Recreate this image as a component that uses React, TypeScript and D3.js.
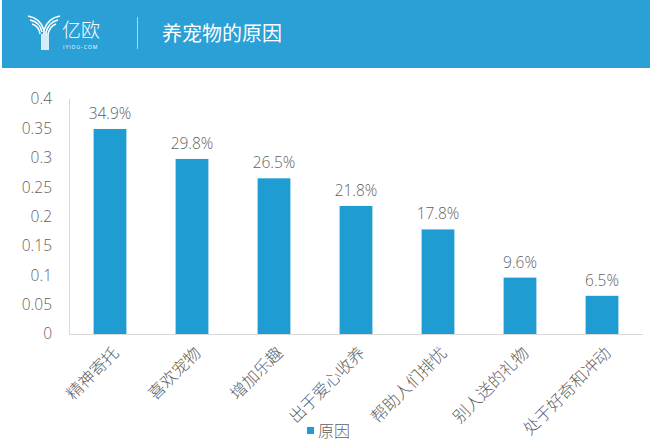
import React from "react";
import * as d3 from "d3";

const categories = ["精神寄托", "喜欢宠物", "增加乐趣", "出于爱心收养", "帮助人们排忧", "别人送的礼物", "处于好奇和冲动"];
const values = [0.349, 0.298, 0.265, 0.218, 0.178, 0.096, 0.065];
const valueLabels = ["34.9%", "29.8%", "26.5%", "21.8%", "17.8%", "9.6%", "6.5%"];
const yTicks = [0, 0.05, 0.1, 0.15, 0.2, 0.25, 0.3, 0.35, 0.4];
const seriesName = "原因";
const title = "养宠物的原因";

const W = 650, H = 442;
const BLUE = "#1f9dd3";
const HEADER = "#2aa0d6";
const TEXT = "#5f5f5f";
const NUM_FONT = "'Open Sans', 'DejaVu Sans', sans-serif";
const CJK_FONT = "'Noto Sans CJK SC', 'Noto Sans', sans-serif";

export default function App() {
  const x = d3.scaleBand<string>().domain(categories).range([69, 643]).paddingInner(0.6).paddingOuter(0.3);
  const y = d3.scaleLinear().domain([0, 0.4]).range([334, 99]);
  const fmt = d3.format("");
  return (
    <svg width={W} height={H} style={{ position: "absolute", left: 0, top: 0, background: "#fff" }}>
      <rect x={2} y={0} width={W - 2} height={68} fill={HEADER} />
      {/* logo */}
      <g stroke="#fff" strokeWidth={1.6} fill="none">
        <path d="M28,16 Q40,18 44,30 L44,50" />
        <path d="M30,20 Q40,22 42,32" />
        <path d="M32,24 Q39,26 40,34" />
        <path d="M60,16 Q48,18 44,30" />
        <path d="M58,20 Q49,22 46,32 L46,50" />
        <path d="M56,24 Q50,26 48,34 L48,50" />
        <path d="M42,34 L42,50" />
      </g>
      <text x={62} y={37} fill="#fff" fontSize={19} fontFamily={CJK_FONT} fontWeight={300}>亿欧</text>
      <text x={63} y={48.5} fill="#fff" fontSize={5} fontFamily={NUM_FONT} letterSpacing={1}>IYIOU-COM</text>
      <line x1={137.5} x2={137.5} y1={17} y2={49} stroke="#fff" strokeOpacity={0.6} strokeWidth={1} />
      <text x={162} y={41} fill="#fff" fontSize={20} fontFamily={CJK_FONT} fontWeight={400}>{title}</text>

      {/* y axis */}
      <line x1={69.5} x2={69.5} y1={y(0.4)} y2={y(0)} stroke="#d9d9d9" />
      {yTicks.map((t) => (
        <text key={t} x={52} y={y(t)} dy="0.35em" textAnchor="end" fontSize={15.5} fill={TEXT} fontFamily={NUM_FONT} fontWeight={300}>
          {fmt(t)}
        </text>
      ))}
      {/* bars */}
      {categories.map((c, i) => (
        <g key={c}>
          <rect x={x(c)} y={y(values[i])} width={x.bandwidth()} height={y(0) - y(values[i])} fill={BLUE} />
          <text x={x(c)! + x.bandwidth() / 2} y={y(values[i]) - 10} textAnchor="middle" fontSize={15.5} fill={TEXT} fontFamily={NUM_FONT} fontWeight={300}>
            {valueLabels[i]}
          </text>
          <text
            transform={`translate(${x(c)! + x.bandwidth() / 2 + 10},${354}) rotate(-45)`}
            textAnchor="end"
            fontSize={16.5}
            fill={TEXT}
            fontFamily={CJK_FONT}
            fontWeight={300}
          >
            {c}
          </text>
        </g>
      ))}
      <line x1={69} x2={643} y1={334.5} y2={334.5} stroke="#d9d9d9" />
      {/* legend */}
      <rect x={307} y={427} width={7} height={7} fill={BLUE} />
      <text x={318} y={431} dy="0.35em" fontSize={16} fill={TEXT} fontFamily={CJK_FONT} fontWeight={300}>{seriesName}</text>
    </svg>
  );
}
